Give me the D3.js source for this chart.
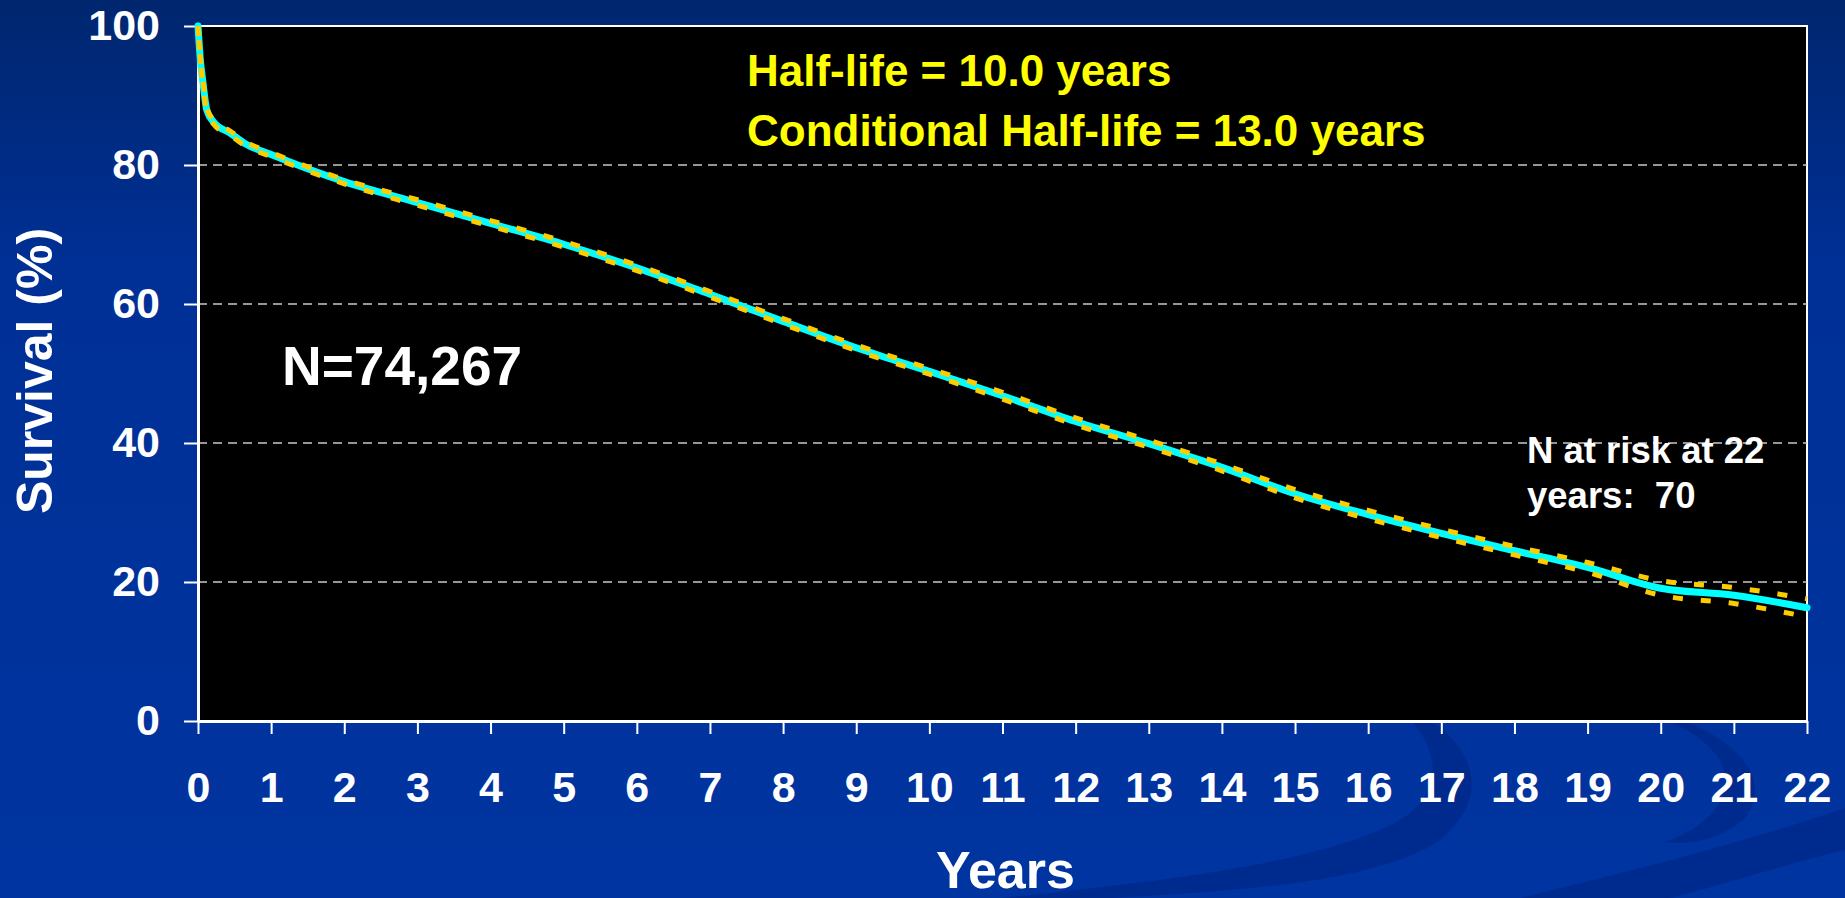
<!DOCTYPE html>
<html>
<head>
<meta charset="utf-8">
<script src="https://cdn.jsdelivr.net/npm/d3@7"></script>
<style>
    html, body { margin: 0; padding: 0; background: #0033a0; overflow: hidden; }
    svg { display: block; font-family: "Liberation Sans", Arial, sans-serif; font-weight: bold; }
</style>
</head>
<body>
<div id="chart"></div>
<script>

// survival curve (years / percent)
var years = [0, 0.03, 0.07, 0.12, 0.22, 0.44, 0.64, 1, 2, 3, 4, 5, 6, 7, 8, 9, 10, 11, 12, 13, 14, 15, 16, 17, 18, 19, 20, 21, 22];
var survival = [100, 95.4, 91.7, 87.9, 86.1, 84.6, 83.1, 81.5, 77.6, 74.6, 71.6, 68.6, 65.2, 61.4, 57.5, 53.7, 50.3, 46.8, 43.1, 39.9, 36.5, 32.7, 29.7, 27.0, 24.5, 22.1, 19.1, 18.1, 16.3];
var upperCI = [100, 95.6, 92.0, 88.2, 86.4, 84.9, 83.4, 81.8, 77.9, 75.0, 72.0, 69.0, 65.6, 61.8, 57.9, 54.1, 50.7, 47.3, 43.6, 40.4, 37.0, 33.3, 30.3, 27.6, 25.1, 22.8, 20.2, 19.2, 17.6];
var lowerCI = [100, 95.2, 91.4, 87.6, 85.8, 84.3, 82.8, 81.2, 77.3, 74.2, 71.2, 68.2, 64.8, 61.0, 57.1, 53.3, 49.9, 46.3, 42.6, 39.4, 36.0, 32.1, 29.1, 26.4, 23.9, 21.4, 18.1, 16.9, 15.0];

// axis ticks
var xTicks = [0, 1, 2, 3, 4, 5, 6, 7, 8, 9, 10, 11, 12, 13, 14, 15, 16, 17, 18, 19, 20, 21, 22];
var yTicks = [0, 20, 40, 60, 80, 100];
var gridTicks = [20, 40, 60, 80];

// text on the slide
var halfLifeLines = ["Half-life = 10.0 years", "Conditional Half-life = 13.0 years"];
var nLabel = "N=74,267";
var atRiskLines = ["N at risk at 22", "years:  70"];

var W = 1845, H = 898;
var margin = { top: 26, right: 38, bottom: 177, left: 198 };
var width = W - margin.left - margin.right;
var height = H - margin.top - margin.bottom;

var svg = d3.select("#chart")
    .append("svg")
    .attr("width", W)
    .attr("height", H);

// background gradient
var defs = svg.append("defs");
var grad = defs.append("linearGradient")
    .attr("id", "bg")
    .attr("x1", 0).attr("y1", 0).attr("x2", 0).attr("y2", 1);
grad.append("stop").attr("offset", "0").attr("stop-color", "#00266e");
grad.append("stop").attr("offset", "0.3").attr("stop-color", "#003096");
grad.append("stop").attr("offset", "1").attr("stop-color", "#0034a0");

svg.append("rect")
    .attr("width", W)
    .attr("height", H)
    .attr("fill", "url(#bg)");

// decorative swooshes bottom right
var swoosh = svg.append("g").attr("fill", "#00298a").attr("opacity", 0.8);
swoosh.append("path")
    .attr("d", "M1390,700 C1470,730 1500,790 1440,840 C1380,880 1260,890 1110,898 L1000,898 C1180,880 1330,860 1400,820 C1450,790 1440,740 1390,700 Z");
swoosh.append("path")
    .attr("d", "M1610,700 C1720,720 1780,770 1745,818 C1720,840 1690,845 1665,842 C1700,830 1740,800 1720,760 C1700,730 1660,715 1610,700 Z");
swoosh.append("path")
    .attr("d", "M1845,808 C1780,830 1700,855 1520,898 L1670,898 C1740,880 1800,860 1845,850 Z");

//set scales
var xScale = d3.scaleLinear()
    .domain([0, 22])
    .range([0, width]);

var yScale = d3.scaleLinear()
    .domain([0, 100])
    .range([height, 0]);

var g = svg.append("g")
    .attr("transform", "translate(" + margin.left + "," + margin.top + ")");

// plot area
g.append("rect")
    .attr("width", width)
    .attr("height", height)
    .attr("fill", "#000")
    .attr("stroke", "#fff")
    .attr("stroke-width", 2);

// dashed gridlines
g.append("g")
    .selectAll("line")
    .data(gridTicks)
    .enter()
    .append("line")
    .attr("x1", 0)
    .attr("x2", width)
    .attr("y1", d => yScale(d))
    .attr("y2", d => yScale(d))
    .attr("stroke", "#c8c8c8")
    .attr("stroke-width", 1.5)
    .attr("stroke-dasharray", "9,6");

// axes
var xAxis = g.append("g")
    .attr("transform", "translate(0," + height + ")")
    .call(d3.axisBottom(xScale).tickValues(xTicks).tickSize(13).tickSizeOuter(0).tickPadding(37).tickFormat(d3.format("d")));

var yAxis = g.append("g")
    .call(d3.axisLeft(yScale).tickValues(yTicks).tickSize(14).tickSizeOuter(0).tickPadding(24));

[xAxis, yAxis].forEach(function(ax) {
    ax.select(".domain").attr("stroke", "#fff").attr("stroke-width", 3);
    ax.selectAll(".tick line").attr("stroke", "#fff").attr("stroke-width", 2);
    ax.selectAll(".tick text")
        .attr("fill", "#fff")
        .style("font-family", "'Liberation Sans', Arial, sans-serif")
        .style("font-weight", "bold")
        .style("font-size", "43px");
});

// build point tables from the arrays
var survPts = years.map((t, i) => [t, survival[i]]);
var upperPts = years.map((t, i) => [t, upperCI[i]]);
var lowerPts = years.map((t, i) => [t, lowerCI[i]]);

var line = d3.line()
    .x(d => xScale(d[0]))
    .y(d => yScale(d[1]))
    .curve(d3.curveMonotoneX);

// survival curve
g.append("path")
    .datum(survPts)
    .attr("d", line)
    .attr("fill", "none")
    .attr("stroke", "#00ffff")
    .attr("stroke-width", 7)
    .attr("stroke-linecap", "round");

// confidence limits, dashed yellow
g.append("path")
    .datum(upperPts)
    .attr("d", line)
    .attr("fill", "none")
    .attr("stroke", "#ffcc00")
    .attr("stroke-width", 5)
    .attr("stroke-dasharray", "10,18");

g.append("path")
    .datum(lowerPts)
    .attr("d", line)
    .attr("fill", "none")
    .attr("stroke", "#ffcc00")
    .attr("stroke-width", 5)
    .attr("stroke-dasharray", "10,18")
    .attr("stroke-dashoffset", 14);

// half-life annotation
g.append("g")
    .selectAll("text")
    .data(halfLifeLines)
    .enter()
    .append("text")
    .attr("x", 549)
    .attr("y", (d, i) => 60 + i * 60)
    .attr("fill", "#ffff00")
    .style("font-size", "44px")
    .text(d => d);

g.append("text")
    .attr("x", 84)
    .attr("y", 359)
    .attr("fill", "#fff")
    .style("font-size", "55px")
    .text(nLabel);

g.append("g")
    .selectAll("text")
    .data(atRiskLines)
    .enter()
    .append("text")
    .attr("x", 1329)
    .attr("y", (d, i) => 437 + i * 45)
    .attr("fill", "#fff")
    .style("font-size", "36.5px")
    .style("white-space", "pre")
    .text(d => d);

// axis titles
svg.append("text")
    .attr("x", margin.left + xScale(11) + 3)
    .attr("y", 888)
    .attr("text-anchor", "middle")
    .attr("fill", "#fff")
    .style("font-size", "52px")
    .text("Years");

svg.append("text")
    .attr("transform", "translate(52,371) rotate(-90)")
    .attr("text-anchor", "middle")
    .attr("fill", "#fff")
    .style("font-size", "50px")
    .text("Survival (%)");

</script>
</body>
</html>
